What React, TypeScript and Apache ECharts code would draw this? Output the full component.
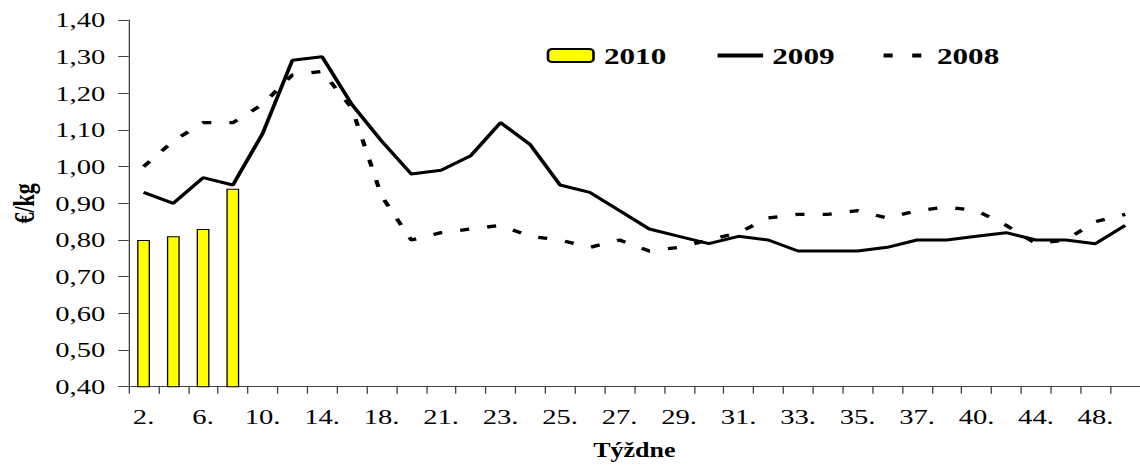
import React, { useEffect, useRef } from 'react';
import * as echarts from 'echarts';

// Weeks (category axis)
const weeks = ['2.', '4.', '6.', '8.', '10.', '12.', '14.', '16.', '18.', '20.', '21.', '22.', '23.', '24.', '25.', '26.', '27.', '28.', '29.', '30.', '31.', '32.', '33.', '34.', '35.', '36.', '37.', '38.', '40.', '42.', '44.', '46.', '48.', '50.'];

// €/kg
const s2010 = [0.80, 0.81, 0.83, 0.94];
const s2009 = [0.93, 0.90, 0.97, 0.95, 1.09, 1.29, 1.30, 1.17, 1.07, 0.98, 0.99, 1.03, 1.12, 1.06, 0.95, 0.93, 0.88, 0.83, 0.81, 0.79, 0.81, 0.80, 0.77, 0.77, 0.77, 0.78, 0.80, 0.80, 0.81, 0.82, 0.80, 0.80, 0.79, 0.84];
const s2008 = [1.00, 1.07, 1.12, 1.12, 1.17, 1.25, 1.26, 1.16, 0.92, 0.80, 0.82, 0.83, 0.84, 0.81, 0.80, 0.78, 0.80, 0.77, 0.78, 0.80, 0.82, 0.86, 0.87, 0.87, 0.88, 0.86, 0.88, 0.89, 0.88, 0.84, 0.79, 0.80, 0.85, 0.87];

const seriesNames = ['2010', '2009', '2008'];
const yMin = 0.4;
const yMax = 1.4;
const yStep = 0.1;

const SX = 1.3; // horizontal stretch of the original picture
const W = 1140 / SX;
const FONT = 'Liberation Serif';

export default function App() {
  const ref = useRef<HTMLDivElement>(null);

  useEffect(() => {
    const chart = echarts.init(ref.current as HTMLDivElement, null, { renderer: 'svg' });
    chart.setOption({
      animation: false,
      backgroundColor: '#ffffff',
      grid: { left: 125 / SX, right: -6, top: 20, bottom: 78.3, containLabel: false },
      legend: [
        {
          data: [seriesNames[0]],
          left: 546.7 / SX,
          top: 43.5,
          padding: 0,
          itemWidth: 35,
          itemHeight: 13,
          selectedMode: false,
          textStyle: { fontFamily: FONT, fontWeight: 'bold', fontSize: 24, color: '#000', padding: [0, 0, 0, 3] },
        },
        {
          data: [seriesNames[1]],
          left: 715 / SX,
          top: 43.5,
          padding: 0,
          itemWidth: 35,
          itemHeight: 13,
          selectedMode: false,
          itemStyle: { color: 'rgba(0,0,0,0)', borderWidth: 0 },
          lineStyle: { width: 4, color: '#000' },
          textStyle: { fontFamily: FONT, fontWeight: 'bold', fontSize: 24, color: '#000', padding: [0, 0, 0, 2] },
        },
        {
          data: [seriesNames[2]],
          left: 881 / SX,
          top: 43.5,
          padding: 0,
          itemWidth: 29,
          itemHeight: 13,
          selectedMode: false,
          itemStyle: { color: 'rgba(0,0,0,0)', borderWidth: 0 },
          lineStyle: { width: 4, color: '#000', type: [7, 15] },
          textStyle: { fontFamily: FONT, fontWeight: 'bold', fontSize: 24, color: '#000', padding: [0, 0, 0, 7] },
        },
      ],
      xAxis: {
        type: 'category',
        data: weeks,
        boundaryGap: true,
        name: 'Týždne',
        nameLocation: 'middle',
        nameGap: 53,
        nameTextStyle: { fontFamily: FONT, fontWeight: 'bold', fontSize: 20, color: '#000' },
        axisLine: { show: true, lineStyle: { color: '#404040', width: 1 } },
        axisTick: { show: true, interval: 0, length: 7, alignWithLabel: false, lineStyle: { color: '#404040' } },
        axisLabel: { interval: 1, margin: 19, fontFamily: FONT, fontSize: 22, color: '#000' },
        splitLine: { show: false },
      },
      yAxis: {
        type: 'value',
        min: yMin,
        max: yMax,
        interval: yStep,
        name: '€/kg',
        nameLocation: 'middle',
        nameGap: 69,
        nameTextStyle: { fontFamily: FONT, fontWeight: 'bold', fontSize: 22, color: '#000' },
        axisLine: { show: true, lineStyle: { color: '#404040', width: 1 } },
        axisTick: { show: true, length: 8, lineStyle: { color: '#404040' } },
        axisLabel: {
          margin: 18,
          fontFamily: FONT,
          fontSize: 22,
          color: '#000',
          formatter: (v: number) => v.toFixed(2).replace('.', ','),
        },
        splitLine: { show: false },
      },
      series: [
        {
          name: seriesNames[0],
          type: 'bar',
          data: s2010,
          barWidth: '43%',
          itemStyle: { color: '#FFFF00', borderColor: '#000000', borderWidth: 1 },
          z: 1,
        },
        {
          name: seriesNames[1],
          type: 'line',
          data: s2009,
          symbol: 'none',
          lineStyle: { color: '#000000', width: 3 },
          itemStyle: { color: '#000000' },
          z: 3,
        },
        {
          name: seriesNames[2],
          type: 'line',
          data: s2008,
          symbol: 'none',
          lineStyle: { color: '#000000', width: 3.3, type: [7, 14] },
          itemStyle: { color: '#000000' },
          z: 2,
        },
      ],
    });
    return () => chart.dispose();
  }, []);

  return (
    <div
      ref={ref}
      style={{
        position: 'fixed',
        left: 0,
        top: 0,
        width: W,
        height: 465,
        transform: `scaleX(${SX})`,
        transformOrigin: '0 0',
        background: '#ffffff',
      }}
    />
  );
}
